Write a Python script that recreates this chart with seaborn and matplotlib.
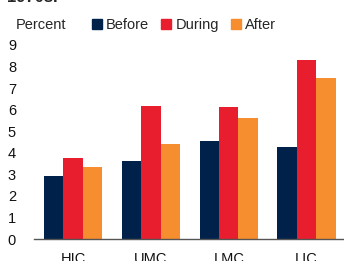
import pandas as pd
import seaborn as sns
import matplotlib.pyplot as plt
from matplotlib.patches import Patch

# dados
grupos = ["HIC", "UMC", "LMC", "LIC"]
periodos = ["Before", "During", "After"]
antes = [2.92, 3.6, 4.54, 4.29]
durante = [3.74, 6.17, 6.14, 8.32]
depois = [3.33, 4.4, 5.6, 7.45]
cores = ["#00224A", "#E81E2E", "#F68D2E"]

tabela = pd.DataFrame({
    "grupo": grupos * 3,
    "periodo": [p for p in periodos for _ in grupos],
    "valor": antes + durante + depois,
})

sns.set_style("white")
plt.rcParams["font.family"] = ["Liberation Sans", "DejaVu Sans"]

fig = plt.figure(figsize=(3.44, 2.61), dpi=100)
ax = fig.add_axes([0.099, 0.084, 0.901, 0.744])

sns.barplot(data=tabela, x="grupo", y="valor", hue="periodo", order=grupos,
            hue_order=periodos, palette=cores, width=0.75, ax=ax,
            saturation=1, legend=False, edgecolor="none")

ax.set_ylim(0, 9)
ax.set_xlim(-0.5, 3.48)
ax.set_yticks(range(10))
ax.set_xlabel("")
ax.set_ylabel("")
ax.tick_params(axis="both", length=0, labelsize=10.5, colors="#111111")
ax.tick_params(axis="y", pad=13)
ax.tick_params(axis="x", pad=9)
for s in ["top", "right", "left"]:
    ax.spines[s].set_visible(False)
ax.spines["bottom"].set_color("#555555")
ax.spines["bottom"].set_linewidth(1)

# titulo cortado no topo
fig.text(0.02, 1.01, "1970s.", fontsize=12, fontweight="bold", va="center")
fig.text(0.045, 0.905, "Percent", fontsize=10.5, va="center")

alcas = [Patch(color=c, label=p) for c, p in zip(cores, periodos)]
fig.legend(handles=alcas, loc="center left", bbox_to_anchor=(0.266, 0.905),
           ncol=3, frameon=False, fontsize=10.5, handlelength=0.7,
           handleheight=0.7, handletextpad=0.3, columnspacing=0.8,
           borderpad=0, borderaxespad=0)

fig.savefig("out.png", dpi=100)
